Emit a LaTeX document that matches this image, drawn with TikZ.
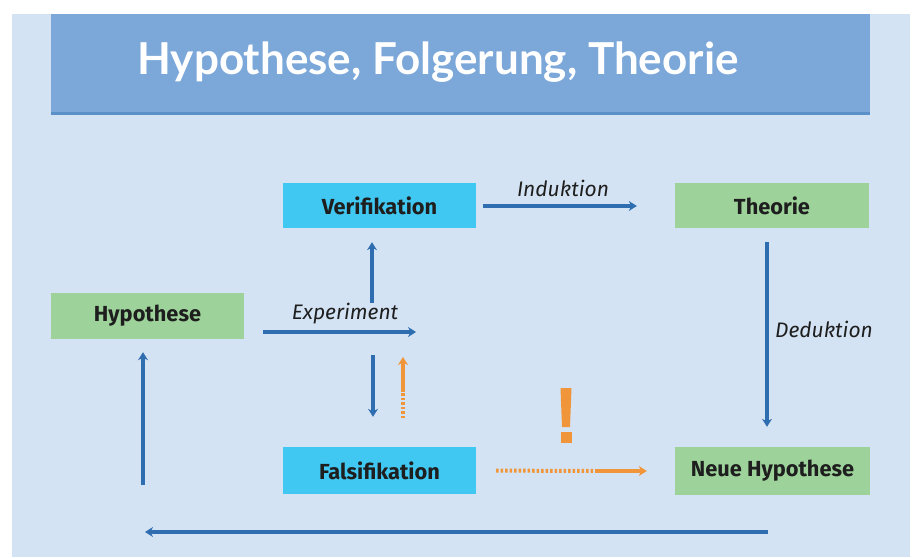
\documentclass[tikz,border=0pt]{standalone}
\usepackage{fontspec}
\setmainfont{Fira Sans}
\newfontfamily\titlefont{Lato}
\usetikzlibrary{arrows.meta}
\definecolor{panel}{HTML}{D4E3F3}
\definecolor{titlebox}{HTML}{7BA7D9}
\definecolor{cyanbox}{HTML}{40C8F2}
\definecolor{greenbox}{HTML}{9DD39A}
\definecolor{arrowblue}{HTML}{2E6DAF}
\definecolor{orangec}{HTML}{F0953A}
\definecolor{textdark}{HTML}{1E1E1E}
\tikzset{
  box/.style={minimum width=193pt, minimum height=45pt, inner sep=0pt,
    font=\fontsize{21.8}{22}\selectfont\bfseries, text=textdark},
  verbox/.style={box, fill=cyanbox},
  theobox/.style={box, fill=greenbox},
  barrow/.style={draw=arrowblue, line width=4pt, -{Stealth[length=8pt,width=10pt]}},
  oarrow/.style={draw=orangec, line width=4pt, -{Stealth[length=8pt,width=10pt]}},
  odots/.style={draw=orangec, line width=4pt, dash pattern=on 2.5pt off 2pt},
  lbl/.style={font=\fontsize{21}{21}\selectfont\itshape, text=textdark, inner sep=0pt}
}
\begin{document}
\begin{tikzpicture}[x=1pt,y=-1pt]
\useasboundingbox (0,0) rectangle (912,557);
\fill[white] (0,0) rectangle (912,557);
\fill[panel] (12,14) rectangle (910,557);
\fill[arrowblue!40!titlebox] (51,110) rectangle (870,115);
\fill[titlebox] (51,14) rectangle (870,112);
\node[text=white, font=\titlefont\fontsize{44}{44}\selectfont\bfseries, inner sep=0pt] (title) at (438,62) {Hypothese, Folgerung, Theorie};

\node[verbox] (ver) at (379.5,205.5) {Verifikation};
\node[theobox, minimum width=194pt] (theo) at (772,205.5) {Theorie};
\node[theobox, minimum height=46pt] (hyp) at (147.5,316) {Hypothese};
\node[verbox, minimum height=47pt] (fal) at (379.5,470.5) {Falsifikation};
\node[theobox, minimum width=195pt, minimum height=48pt] (neu) at (772.5,471) {Neue Hypothese};

\coordinate (expstart) at (263,332);
\coordinate (expend) at (416,332);
\coordinate (upstart) at (372,303);
\coordinate (dnstart) at (373,355);
\coordinate (orA) at (403,418);
\coordinate (orM) at (403,392);
\coordinate (orB) at (403,357);
\coordinate (bstart) at (768,532);
\coordinate (bend) at (145,532);
\coordinate (ustart) at (143,485);

\draw[barrow, shorten <=7pt, shorten >=38pt] (ver.east |- 0,206) -- (theo.west |- 0,206);
\node[lbl] (ind) at (563,188) {Induktion};
\draw[barrow, shorten <=14pt, shorten >=20pt] (theo.south -| 767,0) -- (neu.north -| 767,0);
\node[lbl] (ded) at (824,329) {Deduktion};
\draw[barrow] (expstart) -- (expend);
\node[lbl] (exp) at (345,314) {Experiment};
\draw[barrow, shorten >=14pt] (upstart) -- (ver.south -| upstart);
\draw[barrow, shorten >=30pt] (dnstart) -- (fal.north -| dnstart);
\draw[odots] (orA) -- (orM);
\draw[oarrow] (orM) -- (orB);
\coordinate (ohm) at (595,471);
\draw[odots, shorten <=20pt] (fal.east) -- (ohm);
\draw[oarrow, shorten >=28pt] (ohm) -- (neu.west);
\fill[orangec] (560.5,388) -- (571.5,388) -- (570,427) -- (562,427) -- cycle;
\fill[orangec] (560.5,432) rectangle (571.5,443);
\draw[barrow] (bstart) -- (bend);
\draw[barrow, shorten >=13pt] (ustart) -- (hyp.south -| ustart);
\end{tikzpicture}
\end{document}
